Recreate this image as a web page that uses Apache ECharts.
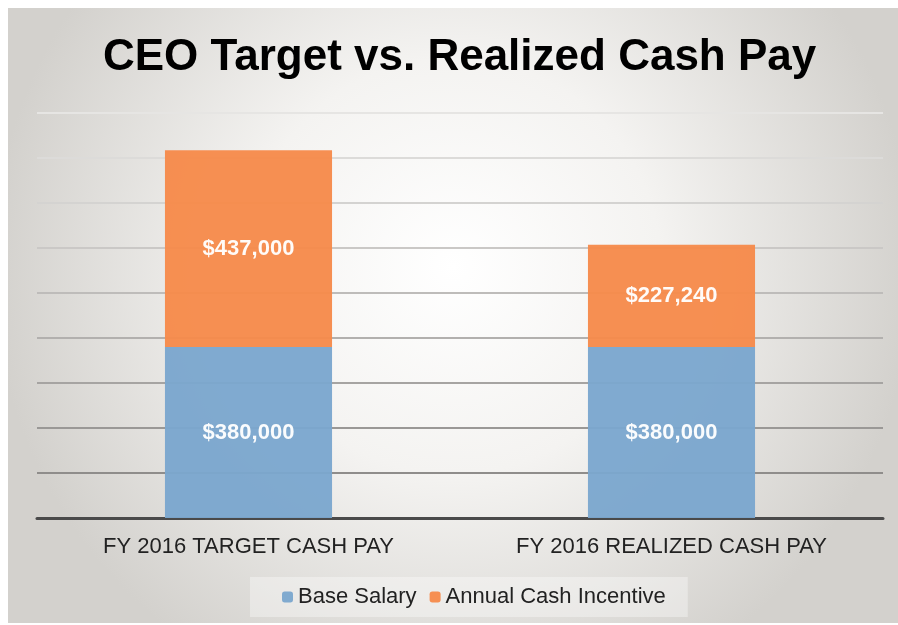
<html>

<head>
    <meta charset="utf-8" />
    <style>
        body { margin: 0; background: #fff; }
        .chartbox {
            position: absolute;
            left: 8px;
            top: 8px;
            width: 890px;
            height: 615px;
        }
    </style>
    <script src="https://cdn.jsdelivr.net/npm/echarts@6/dist/echarts.min.js"></script>
</head>

<body>
    <div id='main' class='chartbox'></div>
    <script type="text/javascript">
        var categories = ['FY 2016 TARGET CASH PAY', 'FY 2016 REALIZED CASH PAY'];
        var baseSalary = [380000, 380000];
        var cashIncentive = [437000, 227240];
        var seriesNames = ['Base Salary', 'Annual Cash Incentive'];

        function money(p) {
            return '$' + p.value.toLocaleString('en-US');
        }

        var chart = echarts.init(document.getElementById('main'));
        var labelStyle = {
            show: true,
            position: 'inside',
            color: '#fff',
            fontSize: 22,
            fontWeight: 'bold',
            fontFamily: 'Liberation Sans',
            formatter: money
        };
        /* gridlines fade from dark at the bottom to faint at the top */
        var gridColors = ['#8c8a88', '#8f8d8b', '#9a9896', '#a6a4a2', '#b2b0ae',
            '#bebcba', '#cac8c6', '#d4d3d1', '#dcdbd9', '#e6e5e3'];
        var option = {
            backgroundColor: {
                type: 'radial', x: 0.5, y: 0.42, r: 0.75,
                colorStops: [
                    { offset: 0, color: '#ffffff' },
                    { offset: 0.45, color: '#f4f3f1' },
                    { offset: 1, color: '#d3d1cd' }
                ]
            },
            title: {
                text: 'CEO Target vs. Realized Cash Pay',
                left: 90,
                top: 23,
                textStyle: {
                    fontFamily: 'Liberation Sans',
                    fontWeight: 'bold',
                    fontSize: 44,
                    color: '#000'
                }
            },
            legend: {
                data: seriesNames,
                bottom: 6,
                left: 242,
                itemWidth: 11,
                itemHeight: 11,
                itemGap: 13,
                backgroundColor: 'rgba(255,255,255,0.35)',
                padding: [9, 22, 9, 32],
                textStyle: { fontFamily: 'Liberation Sans', fontSize: 22, color: '#222' }
            },
            grid: { left: 29, right: 15, top: 105, bottom: 105 },
            xAxis: {
                type: 'category',
                data: categories,
                axisTick: { show: false },
                axisLine: { lineStyle: { color: '#4a4a4a', width: 3 } },
                axisLabel: { fontFamily: 'Liberation Sans', fontSize: 22, color: '#222', margin: 18 }
            },
            yAxis: {
                type: 'value',
                min: 0,
                max: 900000,
                interval: 100000,
                axisLabel: { show: false },
                splitLine: { lineStyle: { color: gridColors, width: 2 } }
            },
            series: [
                {
                    name: seriesNames[0],
                    type: 'bar',
                    stack: 'pay',
                    data: baseSalary,
                    barCategoryGap: '60.5%',
                    itemStyle: { color: '#7ba7ce', opacity: 0.96 },
                    label: labelStyle
                },
                {
                    name: seriesNames[1],
                    type: 'bar',
                    stack: 'pay',
                    data: cashIncentive,
                    itemStyle: { color: '#f68a4b', opacity: 0.96 },
                    label: labelStyle
                }
            ]
        };
        chart.setOption(option);
    </script>
</body>

</html>
